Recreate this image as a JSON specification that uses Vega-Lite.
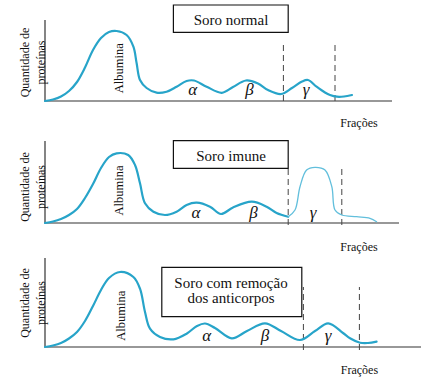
{
  "$schema": "https://vega.github.io/schema/vega-lite/v6.json",
  "padding": 0,
  "spacing": 0,
  "bounds": "flush",
  "background": "white",
  "config": {"view": {"stroke": null}, "font": "Liberation Serif"},
  "resolve": {"scale": {"x": "independent", "y": "independent"}},
  "vconcat": [
    {
      "width": 425,
      "height": 132,
      "encoding": {
        "x": {"field": "u", "type": "quantitative", "scale": {"domain": [-11.25, 95], "nice": false, "zero": false}, "axis": null},
        "y": {"field": "q", "type": "quantitative", "scale": {"domain": [-31, 101], "nice": false, "zero": false}, "axis": null}
      },
      "layer": [
        {"data": {"values": [{"u": 0, "q": 0, "q2": 81}]}, "mark": {"type": "rule", "color": "#333333", "strokeWidth": 1.2}, "encoding": {"y2": {"field": "q2"}}},
        {"data": {"values": [{"u": 0, "u2": 86.75, "q": 0}]}, "mark": {"type": "rule", "color": "#333333", "strokeWidth": 1.2}, "encoding": {"x2": {"field": "u2"}}},
        {"data": {"values": [{"u": 59.6, "q": 0, "q2": 56}, {"u": 72.5, "q": 0, "q2": 56}]}, "mark": {"type": "rule", "color": "#444444", "strokeWidth": 1, "strokeDash": [6, 4]}, "encoding": {"y2": {"field": "q2"}}},
        {"data": {"values": [{"u": 32.1, "u2": 60.8, "q": 68.7, "q2": 96}]}, "mark": {"type": "rect", "fill": "white", "stroke": "#111111", "strokeWidth": 1.2}, "encoding": {"x2": {"field": "u2"}, "y2": {"field": "q2"}}},
        {"data": {"values": [
          {"u": 0, "q": 0}, {"u": 2, "q": 1.5}, {"u": 4, "q": 4.5}, {"u": 6, "q": 10}, {"u": 8, "q": 19}, {"u": 10, "q": 33.5}, {"u": 12, "q": 51}, {"u": 14, "q": 63}, {"u": 16, "q": 69}, {"u": 17.9, "q": 70}, {"u": 20.4, "q": 66}, {"u": 22.1, "q": 54.3}, {"u": 22.9, "q": 38}, {"u": 23.75, "q": 21}, {"u": 25.4, "q": 13}, {"u": 27.9, "q": 8.3}, {"u": 30.4, "q": 9.3}, {"u": 32.9, "q": 14.3}, {"u": 35.4, "q": 20}, {"u": 37.25, "q": 20.5}, {"u": 40.4, "q": 14.3}, {"u": 44.2, "q": 8.2}, {"u": 47, "q": 14}, {"u": 50.25, "q": 20.5}, {"u": 53.25, "q": 17.5}, {"u": 55.75, "q": 11}, {"u": 59, "q": 7}, {"u": 61.75, "q": 13}, {"u": 64.25, "q": 19.5}, {"u": 65.75, "q": 21}, {"u": 67.9, "q": 14.3}, {"u": 70, "q": 8.5}, {"u": 71.25, "q": 6}, {"u": 73, "q": 4.3}, {"u": 74.75, "q": 4.5}, {"u": 76.75, "q": 6}
        ]}, "mark": {"type": "line", "interpolate": "catmull-rom", "color": "#27a4c9", "strokeWidth": 2.2, "strokeCap": "round"}},
        {"data": {"values": [{"u": 46.5, "q": 76, "t": "Soro normal"}]}, "mark": {"type": "text", "fontSize": 15, "align": "center", "baseline": "alphabetic", "color": "#111111"}, "encoding": {"text": {"field": "t"}}},
        {"data": {"values": [{"u": 18.4, "q": 32.7, "t": "Albumina"}]}, "mark": {"type": "text", "fontSize": 12.5, "angle": 270, "align": "center", "baseline": "middle", "color": "#111111"}, "encoding": {"text": {"field": "t"}}},
        {"data": {"values": [{"u": 36.9, "q": 6, "t": "α"}, {"u": 51.1, "q": 6, "t": "β"}, {"u": 65.25, "q": 6, "t": "γ"}]}, "mark": {"type": "text", "fontSize": 17, "fontStyle": "italic", "align": "center", "baseline": "alphabetic", "color": "#111111"}, "encoding": {"text": {"field": "t"}}},
        {"data": {"values": [{"u": 78.5, "q": -25.5, "t": "Frações"}]}, "mark": {"type": "text", "fontSize": 12, "align": "center", "baseline": "alphabetic", "color": "#111111"}, "encoding": {"text": {"field": "t"}}},
        {"data": {"values": [{"u": -5, "q": 38.5, "t": "Quantidade de\nproteínas"}]}, "mark": {"type": "text", "fontSize": 12, "angle": 270, "align": "center", "baseline": "middle", "lineBreak": "\n", "lineHeight": 16, "color": "#111111"}, "encoding": {"text": {"field": "t"}}}
      ]
    },
    {
      "width": 425,
      "height": 122,
      "encoding": {
        "x": {"field": "u", "type": "quantitative", "scale": {"domain": [-11.25, 95], "nice": false, "zero": false}, "axis": null},
        "y": {"field": "q", "type": "quantitative", "scale": {"domain": [-31, 91], "nice": false, "zero": false}, "axis": null}
      },
      "layer": [
        {"data": {"values": [{"u": 0, "q": 0, "q2": 82}]}, "mark": {"type": "rule", "color": "#333333", "strokeWidth": 1.2}, "encoding": {"y2": {"field": "q2"}}},
        {"data": {"values": [{"u": 0, "u2": 88.5, "q": 0}]}, "mark": {"type": "rule", "color": "#333333", "strokeWidth": 1.2}, "encoding": {"x2": {"field": "u2"}}},
        {"data": {"values": [{"u": 60.8, "q": -2, "q2": 54.7}, {"u": 74.2, "q": -2, "q2": 56}]}, "mark": {"type": "rule", "color": "#444444", "strokeWidth": 1, "strokeDash": [6, 4]}, "encoding": {"y2": {"field": "q2"}}},
        {"data": {"values": [{"u": 32.1, "u2": 60.8, "q": 54.7, "q2": 82.3}]}, "mark": {"type": "rect", "fill": "white", "stroke": "#111111", "strokeWidth": 1.2}, "encoding": {"x2": {"field": "u2"}, "y2": {"field": "q2"}}},
        {"data": {"values": [
          {"u": 0, "q": 0}, {"u": 2, "q": 1.5}, {"u": 4, "q": 4}, {"u": 6, "q": 8}, {"u": 8, "q": 14}, {"u": 10, "q": 25}, {"u": 12, "q": 39}, {"u": 14, "q": 55}, {"u": 16, "q": 66}, {"u": 17.9, "q": 69.7}, {"u": 20.8, "q": 68}, {"u": 22.5, "q": 58}, {"u": 23.75, "q": 39.7}, {"u": 25, "q": 19.7}, {"u": 27.1, "q": 11.3}, {"u": 30, "q": 8}, {"u": 32.9, "q": 11.3}, {"u": 35.4, "q": 18}, {"u": 37.9, "q": 20.3}, {"u": 41.25, "q": 16.3}, {"u": 44, "q": 9}, {"u": 47, "q": 15.5}, {"u": 51.7, "q": 21.3}, {"u": 55.4, "q": 16.3}, {"u": 57.9, "q": 10}, {"u": 60.8, "q": 6.3}
        ]}, "mark": {"type": "line", "interpolate": "catmull-rom", "color": "#27a4c9", "strokeWidth": 2.2, "strokeCap": "round"}},
        {"data": {"values": [
          {"u": 60.8, "q": 6.3}, {"u": 62.5, "q": 13}, {"u": 63.75, "q": 36.3}, {"u": 65.4, "q": 53}, {"u": 67.5, "q": 55.7}, {"u": 70, "q": 53}, {"u": 71.7, "q": 36.3}, {"u": 72.5, "q": 13}, {"u": 74.2, "q": 8}, {"u": 77.9, "q": 6.3}, {"u": 81.25, "q": 4.7}, {"u": 82.9, "q": 1.3}
        ]}, "mark": {"type": "line", "interpolate": "catmull-rom", "color": "#62bfdc", "strokeWidth": 1.3, "strokeCap": "round"}},
        {"data": {"values": [{"u": 46.5, "q": 62.3, "t": "Soro imune"}]}, "mark": {"type": "text", "fontSize": 15, "align": "center", "baseline": "alphabetic", "color": "#111111"}, "encoding": {"text": {"field": "t"}}},
        {"data": {"values": [{"u": 18.5, "q": 32.5, "t": "Albumina"}]}, "mark": {"type": "text", "fontSize": 12.5, "angle": 270, "align": "center", "baseline": "middle", "color": "#111111"}, "encoding": {"text": {"field": "t"}}},
        {"data": {"values": [{"u": 37.75, "q": 5.5, "t": "α"}, {"u": 52.1, "q": 5.5, "t": "β"}, {"u": 67, "q": 5.5, "t": "γ"}]}, "mark": {"type": "text", "fontSize": 17, "fontStyle": "italic", "align": "center", "baseline": "alphabetic", "color": "#111111"}, "encoding": {"text": {"field": "t"}}},
        {"data": {"values": [{"u": 78.5, "q": -27.5, "t": "Frações"}]}, "mark": {"type": "text", "fontSize": 12, "align": "center", "baseline": "alphabetic", "color": "#111111"}, "encoding": {"text": {"field": "t"}}},
        {"data": {"values": [{"u": -5, "q": 36, "t": "Quantidade de\nproteínas"}]}, "mark": {"type": "text", "fontSize": 12, "angle": 270, "align": "center", "baseline": "middle", "lineBreak": "\n", "lineHeight": 16, "color": "#111111"}, "encoding": {"text": {"field": "t"}}}
      ]
    },
    {
      "width": 425,
      "height": 123,
      "encoding": {
        "x": {"field": "u", "type": "quantitative", "scale": {"domain": [-11.25, 95], "nice": false, "zero": false}, "axis": null},
        "y": {"field": "q", "type": "quantitative", "scale": {"domain": [-30, 93], "nice": false, "zero": false}, "axis": null}
      },
      "layer": [
        {"data": {"values": [{"u": 0, "q": 0, "q2": 89}]}, "mark": {"type": "rule", "color": "#333333", "strokeWidth": 1.2}, "encoding": {"y2": {"field": "q2"}}},
        {"data": {"values": [{"u": 0, "u2": 94, "q": 0}]}, "mark": {"type": "rule", "color": "#333333", "strokeWidth": 1.2}, "encoding": {"x2": {"field": "u2"}}},
        {"data": {"values": [{"u": 64.6, "q": -3, "q2": 60}, {"u": 78.6, "q": -3, "q2": 60}]}, "mark": {"type": "rule", "color": "#444444", "strokeWidth": 1, "strokeDash": [6, 4]}, "encoding": {"y2": {"field": "q2"}}},
        {"data": {"values": [{"u": 29.2, "u2": 64.2, "q": 30.3, "q2": 79.7}]}, "mark": {"type": "rect", "fill": "white", "stroke": "#111111", "strokeWidth": 1.2}, "encoding": {"x2": {"field": "u2"}, "y2": {"field": "q2"}}},
        {"data": {"values": [
          {"u": 0, "q": 0}, {"u": 2, "q": 1.5}, {"u": 4, "q": 4}, {"u": 6, "q": 8.5}, {"u": 8, "q": 15}, {"u": 10, "q": 26}, {"u": 12, "q": 41}, {"u": 14, "q": 57}, {"u": 16, "q": 69}, {"u": 18.75, "q": 75}, {"u": 22.1, "q": 70}, {"u": 23.75, "q": 58.3}, {"u": 25, "q": 35}, {"u": 26.25, "q": 18.3}, {"u": 28.75, "q": 10}, {"u": 32.1, "q": 7.7}, {"u": 35.4, "q": 13.3}, {"u": 38, "q": 21}, {"u": 40, "q": 23.5}, {"u": 42.5, "q": 19}, {"u": 46.7, "q": 8.7}, {"u": 50.5, "q": 16}, {"u": 55, "q": 23.7}, {"u": 59, "q": 16}, {"u": 63.75, "q": 7}, {"u": 67.5, "q": 16}, {"u": 70.8, "q": 23.7}, {"u": 74.5, "q": 14}, {"u": 76.25, "q": 8.7}, {"u": 78.75, "q": 4.3}, {"u": 80.75, "q": 4}, {"u": 82.9, "q": 5.3}
        ]}, "mark": {"type": "line", "interpolate": "catmull-rom", "color": "#27a4c9", "strokeWidth": 2.2, "strokeCap": "round"}},
        {"data": {"values": [{"u": 46.5, "q": 59.3, "t": "Soro com remoção\ndos anticorpos"}]}, "mark": {"type": "text", "fontSize": 15, "align": "center", "baseline": "alphabetic", "lineBreak": "\n", "lineHeight": 15, "color": "#111111"}, "encoding": {"text": {"field": "t"}}},
        {"data": {"values": [{"u": 18.9, "q": 31.3, "t": "Albumina"}]}, "mark": {"type": "text", "fontSize": 12.5, "angle": 270, "align": "center", "baseline": "middle", "color": "#111111"}, "encoding": {"text": {"field": "t"}}},
        {"data": {"values": [{"u": 40.4, "q": 6, "t": "α"}, {"u": 55, "q": 6, "t": "β"}, {"u": 70.8, "q": 6, "t": "γ"}]}, "mark": {"type": "text", "fontSize": 17, "fontStyle": "italic", "align": "center", "baseline": "alphabetic", "color": "#111111"}, "encoding": {"text": {"field": "t"}}},
        {"data": {"values": [{"u": 78.6, "q": -27, "t": "Frações"}]}, "mark": {"type": "text", "fontSize": 12, "align": "center", "baseline": "alphabetic", "color": "#111111"}, "encoding": {"text": {"field": "t"}}},
        {"data": {"values": [{"u": -5, "q": 44, "t": "Quantidade de\nproteínas"}]}, "mark": {"type": "text", "fontSize": 12, "angle": 270, "align": "center", "baseline": "middle", "lineBreak": "\n", "lineHeight": 16, "color": "#111111"}, "encoding": {"text": {"field": "t"}}}
      ]
    }
  ]
}
